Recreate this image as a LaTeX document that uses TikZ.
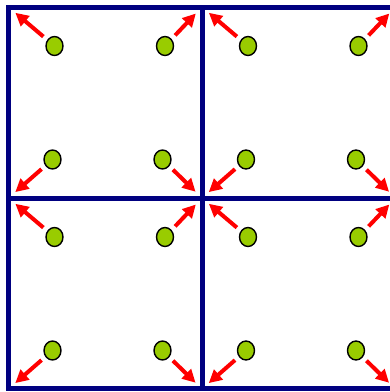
\documentclass[tikz,border=0pt]{standalone}
\usepackage{xcolor}
\usepackage{tikz}
\usetikzlibrary{arrows.meta, shapes.geometric}
\definecolor{gridblue}{RGB}{0,0,128}
\definecolor{dotgreen}{RGB}{153,204,0}

\begin{document}
\begin{tikzpicture}[x=1pt, y=-1pt,
        dot/.style={ellipse, draw, line width=1.4pt, fill=dotgreen,
        minimum width=17pt, minimum height=19pt, inner sep=0pt},
        arr/.style={-{Triangle[length=13pt, width=13pt]}, line width=4pt, red,
        shorten <=5pt, shorten >=9pt},
        wall/.style={gridblue, line width=5pt}
      ]
      \useasboundingbox (0,0) rectangle (390,392);
      % grid of four cells, right edge runs past the picture
      \draw[wall] (8.5,7) rectangle (395.5,388.5);
      \draw[wall] (202,7) -- (202,388.5);
      \draw[wall] (8.5,198) -- (395.5,198);

      \foreach \cx/\cy/\n in {8.5/7/a, 202/7/b, 8.5/198/c, 202/198/d} {
        \coordinate (\n-nw) at (\cx,\cy);
        \coordinate (\n-ne) at (\cx+193.5,\cy);
        \coordinate (\n-sw) at (\cx,\cy+191);
        \coordinate (\n-se) at (\cx+193.5,\cy+191);

        \node[dot] (\n-1) at (\cx+46,\cy+39)      {};
        \node[dot] (\n-2) at (\cx+156.5,\cy+39)   {};
        \node[dot] (\n-3) at (\cx+44,\cy+152.5)   {};
        \node[dot] (\n-4) at (\cx+154,\cy+152.5)  {};

        \draw[arr] (\n-1) -- (\n-nw);
        \draw[arr] (\n-2) -- (\n-ne);
        \draw[arr] (\n-3) -- (\n-sw);
        \draw[arr] (\n-4) -- (\n-se);
      }
    \end{tikzpicture}
\end{document}
